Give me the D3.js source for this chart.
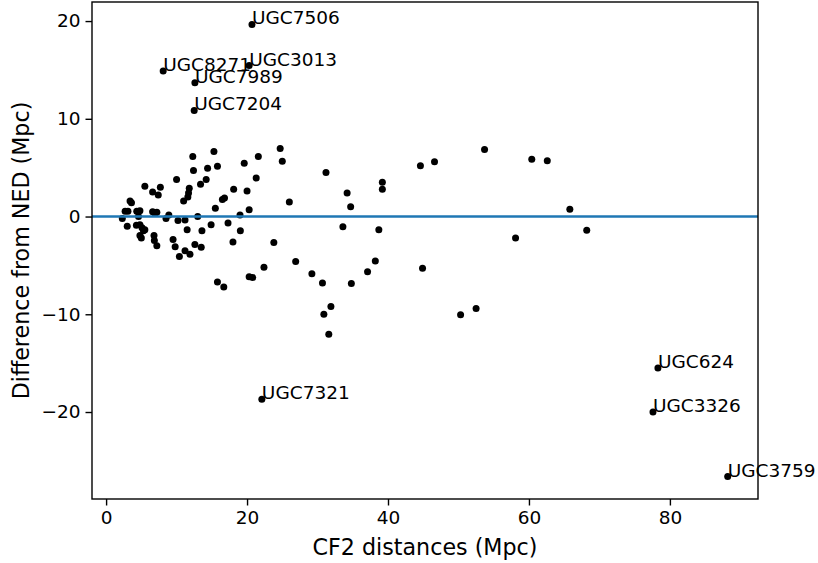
<!DOCTYPE html>
<html>
<head>
<meta charset="utf-8">
<script src="https://cdn.jsdelivr.net/npm/d3@7"></script>
<style>
  html, body { margin: 0; padding: 0; background: #fff; }
  svg text { font-family: "DejaVu Sans", sans-serif; fill: #000; }
</style>
</head>
<body>
<div id="chart"></div>
<script>
// CF2 distance (Mpc) and difference from NED (Mpc), unlabeled galaxies
const cf2Dist = [
  2.3, 2.7, 3.1, 3.0, 3.4, 3.6, 4.35, 4.8, 4.6, 4.3, 4.8, 5.1, 5.3, 5.5, 4.8, 5.0,
  5.5, 6.6, 7.2, 6.95, 6.8, 6.85, 7.2, 6.6, 7.4, 7.7, 8.9, 8.5, 9.5, 9.8, 10.2, 10.0,
  10.4, 11.0, 11.6, 11.7, 11.8, 11.2, 11.5, 11.2, 11.9, 12.3, 12.4, 13.0, 13.4, 13.6,
  12.6, 13.5, 14.2, 14.4, 14.9, 15.3, 15.8, 15.5, 15.8, 16.7, 16.5, 16.8, 17.3, 18.1,
  18.0, 19.0, 19.05, 19.6, 20.0, 20.3, 20.3, 20.8, 21.3, 21.6, 22.4, 23.8, 24.7, 25.0,
  26.0, 26.9, 29.2, 30.7, 31.2, 30.9, 31.9, 31.6, 33.6, 34.2, 34.7, 34.8, 37.1, 38.2,
  38.7, 39.2, 39.2, 44.6, 46.6, 44.9, 50.3, 52.5, 53.7, 58.1, 60.4, 62.6, 65.8, 68.2
];
const nedDiff = [
  -0.2, 0.55, 0.55, -1.0, 1.6, 1.4, 0.55, 0.6, 0.0, -0.9, -0.85, -1.15, -1.45, -1.35, -1.95, -2.2,
  3.1, 0.5, 0.45, 0.3, -1.95, -2.45, -3.0, 2.5, 2.2, 3.0, 0.15, -0.2, -2.35, -3.1, -0.4, 3.8,
  -4.1, 1.6, 2.0, 2.4, 2.9, -0.35, -1.35, -3.5, -3.85, 6.15, 4.7, 0.0, 3.3, -1.45,
  -2.85, -3.15, 3.8, 4.95, -0.85, 6.65, 5.15, 0.85, -6.7, -7.2, 1.75, 1.9, -0.65, 2.8,
  -2.6, 0.15, -1.45, 5.45, 2.6, 0.7, -6.15, -6.25, 3.95, 6.15, -5.2, -2.65, 6.95, 5.65,
  1.5, -4.6, -5.85, -6.8, 4.5, -10.0, -9.2, -12.05, -1.05, 2.4, 1.0, -6.85, -5.65, -4.55,
  -1.35, 3.5, 2.8, 5.2, 5.6, -5.3, -10.05, -9.4, 6.85, -2.2, 5.85, 5.7, 0.75, -1.4
];

// labeled outliers
const outlierNames = ['UGC7506', 'UGC3013', 'UGC8271', 'UGC7989', 'UGC7204', 'UGC7321', 'UGC624', 'UGC3326', 'UGC3759'];
const outlierDist  = [20.7, 20.3, 8.1, 12.6, 12.5, 22.1, 78.3, 77.6, 88.2];
const outlierDiff  = [19.65, 15.45, 14.9, 13.7, 10.85, -18.7, -15.5, -20.0, -26.6];

const xTicks = [0, 20, 40, 60, 80];
const yTicks = [-20, -10, 0, 10, 20];

(function() {
  const width = 818, height = 563;
  const plotLeft = 92, plotRight = 758, plotTop = 2, plotBottom = 499;

  const svg = d3.select('#chart').append('svg')
    .attr('width', width)
    .attr('height', height);

  const x = d3.scaleLinear().domain([-2.0, 92.5]).range([plotLeft, plotRight]);
  const y = d3.scaleLinear().domain([-28.9, 21.95]).range([plotBottom, plotTop]);

  const minus = v => String(v).replace('-', '\u2212');

  // points
  const pts = cf2Dist.map((d, i) => ({ x: d, y: nedDiff[i] }))
    .concat(outlierDist.map((d, i) => ({ x: d, y: outlierDiff[i] })));

  svg.append('g')
    .selectAll('circle')
    .data(pts)
    .join('circle')
    .attr('cx', d => x(d.x))
    .attr('cy', d => y(d.y))
    .attr('r', 3.5)
    .attr('fill', '#000');

  // zero line
  svg.append('line')
    .attr('x1', plotLeft).attr('x2', plotRight)
    .attr('y1', y(0)).attr('y2', y(0))
    .attr('stroke', '#1f77b4')
    .attr('stroke-width', 2.6);

  // galaxy labels
  svg.append('g')
    .selectAll('text')
    .data(outlierNames)
    .join('text')
    .attr('x', (d, i) => x(outlierDist[i]))
    .attr('y', (d, i) => y(outlierDiff[i]))
    .attr('font-size', 18.5)
    .text(d => d);

  // axes
  const xAxis = d3.axisBottom(x).tickValues(xTicks).tickSize(6.5).tickPadding(5).tickFormat(minus);
  const yAxis = d3.axisLeft(y).tickValues(yTicks).tickSize(6.5).tickPadding(5).tickFormat(minus);

  const gx = svg.append('g').attr('transform', `translate(0,${plotBottom})`).call(xAxis);
  const gy = svg.append('g').attr('transform', `translate(${plotLeft},0)`).call(yAxis);

  [gx, gy].forEach(g => {
    g.select('.domain').remove();
    g.selectAll('.tick line').attr('stroke', '#000').attr('stroke-width', 1.4);
    g.selectAll('.tick text').attr('font-size', 18.5).attr('font-family', 'DejaVu Sans').attr('fill', '#000');
  });

  // frame
  svg.append('rect')
    .attr('x', plotLeft).attr('y', plotTop)
    .attr('width', plotRight - plotLeft).attr('height', plotBottom - plotTop)
    .attr('fill', 'none')
    .attr('stroke', '#000')
    .attr('stroke-width', 1.4);

  svg.append('text')
    .attr('x', (plotLeft + plotRight) / 2)
    .attr('y', 555)
    .attr('text-anchor', 'middle')
    .attr('font-size', 22.2)
    .text('CF2 distances (Mpc)');

  svg.append('text')
    .attr('transform', `translate(21,${(plotTop + plotBottom) / 2}) rotate(-90)`)
    .attr('text-anchor', 'middle')
    .attr('dy', '0.35em')
    .attr('font-size', 22.2)
    .text('Difference from NED (Mpc)');
})();
</script>
</body>
</html>
